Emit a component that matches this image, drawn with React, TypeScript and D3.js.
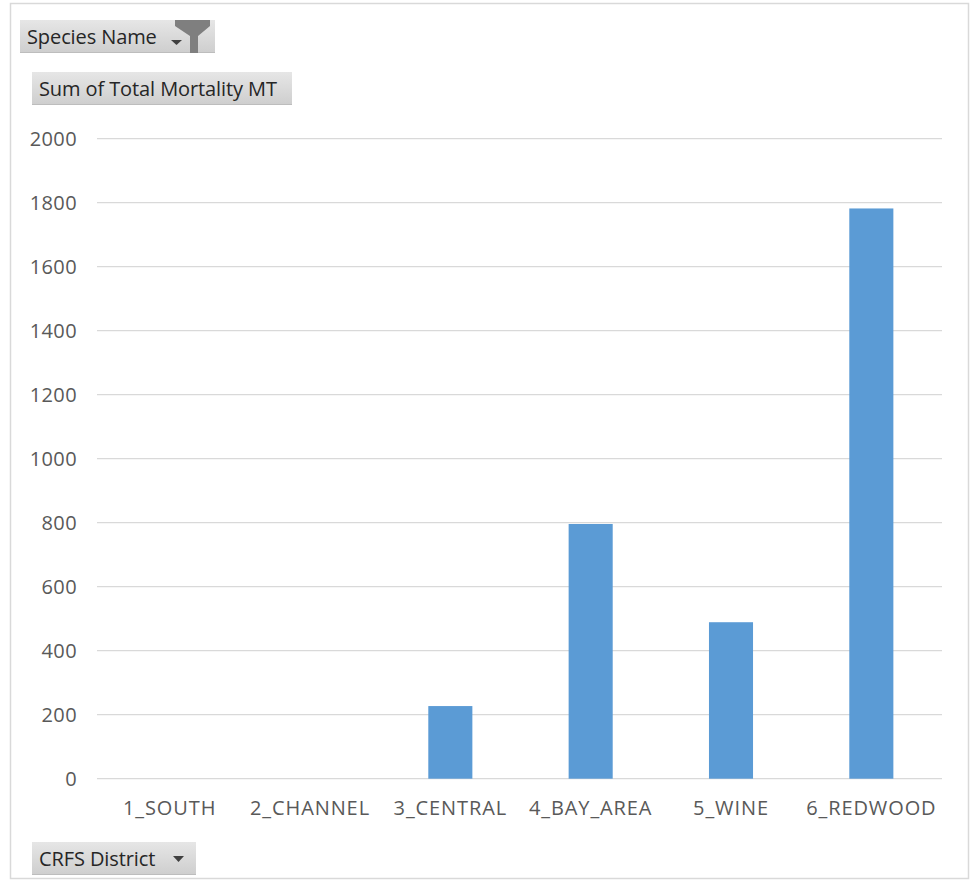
import React from "react";
import * as d3 from "d3";

// CRFS districts and the summed total mortality (MT) for each
const districts = ["1_SOUTH", "2_CHANNEL", "3_CENTRAL", "4_BAY_AREA", "5_WINE", "6_REDWOOD"];
const mortality = [0, 0, 227, 796, 489, 1782];
const yTicks = [0, 200, 400, 600, 800, 1000, 1200, 1400, 1600, 1800, 2000];

const W = 975;
const H = 889;
const FONT = "'Open Sans', 'Segoe UI', sans-serif";

const x = d3.scaleBand<string>().domain(districts).range([99.5, 941.5]).paddingInner(0.686).paddingOuter(0.343);
const y = d3.scaleLinear().domain([0, 2000]).range([778.7, 138.7]);

function FieldButton({ x0, y0, w, h, label, children }: { x0: number; y0: number; w: number; h: number; label: string; children?: React.ReactNode }) {
  return (
    <g>
      <rect x={x0} y={y0} width={w} height={h} fill="url(#btnGrad)" />
      <rect x={x0} y={y0 + h - 1} width={w} height={1} fill="#bdbdbd" />
      <text x={x0 + 7} y={y0 + h / 2 + 7} fontFamily={FONT} fontSize={20} fill="#262626" letterSpacing={-0.1}>
        {label}
      </text>
      {children}
    </g>
  );
}

export default function App() {
  const gridX0 = 97;
  const gridX1 = 942;
  return (
    <svg width={W} height={H} style={{ position: "absolute", left: 0, top: 0, background: "#fff" }}>
      <defs>
        <linearGradient id="btnGrad" x1="0" y1="0" x2="0" y2="1">
          <stop offset="0" stopColor="#e6e6e6" />
          <stop offset="1" stopColor="#cecece" />
        </linearGradient>
      </defs>
      {/* chart frame */}
      <rect x={10.5} y={3.5} width={958} height={875} fill="#fff" stroke="#d9d9d9" strokeWidth={1.5} />

      {/* gridlines */}
      {yTicks.map((t) => (
        <line key={t} x1={gridX0} x2={gridX1} y1={y(t)} y2={y(t)} stroke="#d9d9d9" strokeWidth={1.3} />
      ))}

      {/* y tick labels */}
      {yTicks.map((t) => (
        <text key={"l" + t} x={77} y={y(t) + 7} textAnchor="end" fontFamily={FONT} fontSize={20} fill="#595959" letterSpacing={0.4}>
          {t}
        </text>
      ))}

      {/* bars */}
      {districts.map((d, i) => (
        <rect key={d} x={x(d)!} y={y(mortality[i])} width={x.bandwidth()} height={y(0) - y(mortality[i])} fill="#5b9bd5" />
      ))}

      {/* category labels */}
      {districts.map((d) => (
        <text key={"c" + d} x={x(d)! + x.bandwidth() / 2} y={815} textAnchor="middle" fontFamily={FONT} fontSize={20} fill="#595959" letterSpacing={0.9}>
          {d}
        </text>
      ))}

      {/* pivot field buttons */}
      <FieldButton x0={20} y0={20} w={195} h={33} label="Species Name">
        <path d="M171,40 L182,40 L176.5,45 Z" fill="#404040" />
        <path d="M175,20 L210,20 L210,26 L198,36 L198,53 L190,53 L190,36 L175,26 Z" fill="#7f7f7f" />
      </FieldButton>
      <FieldButton x0={32} y0={72} w={260} h={33} label="Sum of Total Mortality MT" />
      <FieldButton x0={32} y0={842} w={164} h={33} label="CRFS District">
        <path d="M173,856 L184,856 L178.5,862 Z" fill="#404040" />
      </FieldButton>
    </svg>
  );
}
